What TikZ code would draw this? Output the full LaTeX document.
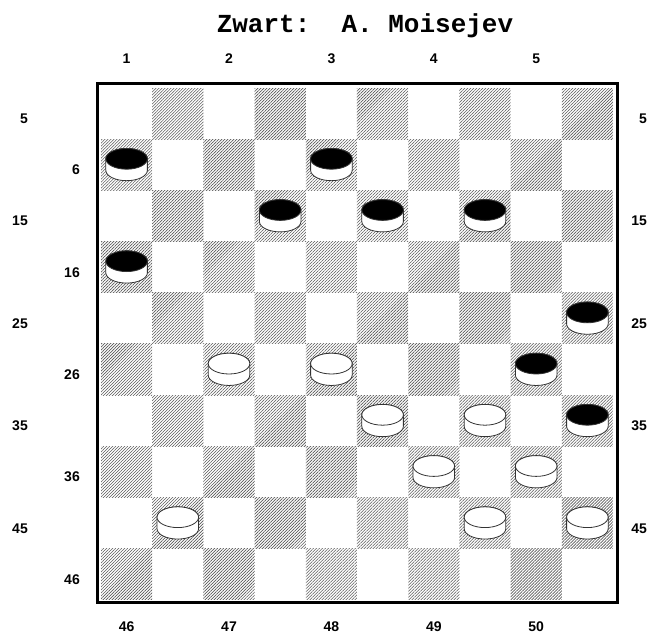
\documentclass[tikz,border=0pt]{standalone}
\usepackage{fontspec}
\setmainfont{Liberation Sans}
\newfontfamily\boardmono{Liberation Mono}
\usetikzlibrary{patterns.meta}

\begin{document}
\begin{tikzpicture}[x=51.2pt, y=51.2pt,
        darksq/.style={pattern={Lines[angle=45, distance=2.12pt, line width=0.6pt]}, pattern color=black!65},
        lbl/.style={font=\fontsize{14}{14}\selectfont\bfseries, inner sep=0pt},
        rim/.style={draw=black!80, line width=0.8pt},
        stone/.pic={
            \filldraw[rim, fill=white] (-0.406,0.117) -- (-0.406,-0.107)
                arc[start angle=180, end angle=360, x radius=0.406, y radius=0.203]
                -- (0.406,0.117)
                arc[start angle=0, end angle=180, x radius=0.406, y radius=0.203] -- cycle;
            \filldraw[rim, fill=#1] (0,0.117) ellipse[x radius=0.406, y radius=0.203];
        }]
        \useasboundingbox (-1.973,1.719) rectangle (10.684,-10.664);

        % Title
        \node[font=\boardmono\bfseries\fontsize{26}{26}\selectfont\frenchspacing, anchor=base, inner sep=0pt]
            (title) at (5.156,1.076) {Zwart:~~A.~Moisejev};

        % Dark squares
        \foreach \r in {0,...,9}
            \foreach \c in {0,2,...,8} {
                \pgfmathtruncatemacro\cc{\c+1-mod(\r,2)}
                \fill[darksq] (\cc,-\r) rectangle ++(1,-1);
            }

        % Border
        \draw[line width=3pt] (-0.068,0.084) rectangle (10.094,-10.055);

        % Numbers round the board
        \foreach \i in {1,...,5}
            \node[lbl, anchor=base] (top\i) at ({2*\i-1.5},0.469) {\i};
        \foreach \c/\n in {0/46,2/47,4/48,6/49,8/50}
            \node[lbl, anchor=base] (bot\n) at ({\c+0.5},-10.61) {\n};
        \foreach \r/\n in {0/5,2/15,4/25,6/35,8/45} {
            \node[lbl, anchor=base east] (left\n) at (-1.426,{-\r-0.695}) {\n};
            \node[lbl, anchor=base east] (right\n) at (10.668,{-\r-0.695}) {\n};
        }
        \foreach \r/\n in {1/6,3/16,5/26,7/36,9/46}
            \node[lbl, anchor=base east] (inner\n) at (-0.41,{-\r-0.695}) {\n};

        % Black pieces
        \foreach \r/\c in {1/0,1/4,2/3,2/5,2/7,3/0,4/9,5/8,6/9}
            \pic (b\r\c) at ({\c+0.5},{-\r-0.5}) {stone=black};

        % White pieces
        \foreach \r/\c in {5/2,5/4,6/5,6/7,7/6,7/8,8/1,8/7,8/9}
            \pic (w\r\c) at ({\c+0.5},{-\r-0.5}) {stone=white};
\end{tikzpicture}
\end{document}
